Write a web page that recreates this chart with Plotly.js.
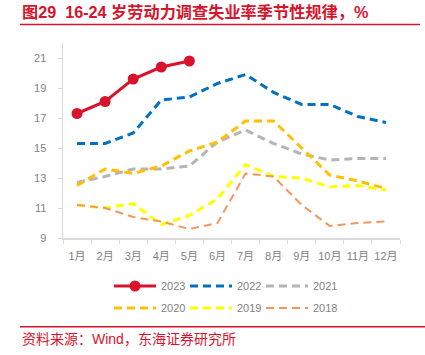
<!DOCTYPE html>
<html>
<head>
<meta charset="utf-8">
<script src="https://cdn.plot.ly/plotly-3.0.1.min.js"></script>
<style>
html,body{margin:0;padding:0;background:#fff;}
#chart{width:425px;height:355px;}
</style>
</head>
<body>
<div id="chart"></div>
<script>
const months = ["1月","2月","3月","4月","5月","6月","7月","8月","9月","10月","11月","12月"];
const y2023 = [17.3, 18.1, 19.6, 20.4, 20.8];
const y2022 = [15.3, 15.3, 16.0, 18.2, 18.4, 19.3, 19.9, 18.7, 17.9, 17.9, 17.1, 16.7];
const y2021 = [12.7, 13.1, 13.6, 13.6, 13.8, 15.4, 16.2, 15.3, 14.6, 14.2, 14.3, 14.3];
const y2020 = [12.5, 13.6, 13.3, 13.8, 14.8, 15.4, 16.8, 16.8, 15.0, 13.2, 12.8, 12.3];
const y2019 = [11.2, 11.0, 11.3, 9.9, 10.5, 11.6, 13.9, 13.1, 13.0, 12.4, 12.5, 12.2];
const y2018 = [11.2, 11.0, 10.4, 10.1, 9.6, 10.0, 13.3, 13.1, 11.2, 9.8, 10.0, 10.1];
const yTicks = [9, 11, 13, 15, 17, 19, 21];

const titleText = "图29  16-24 岁劳动力调查失业率季节性规律，%";
const sourceText = "资料来源：Wind，东海证券研究所";

const FONT = "Liberation Sans, Arial, Noto Sans CJK SC, sans-serif";
const RED = "#D7142C";
const dash = "8px,5px";

function dashed(name, y, color, width, legend) {
  return {
    type: "scatter", mode: "lines", name: name,
    x: months.slice(0, y.length), y: y,
    line: {color: color, width: width, dash: dash},
    legend: legend, hoverinfo: "skip"
  };
}

const traces = [
  {type: "scatter", mode: "lines+markers", name: "2023",
   x: months.slice(0, y2023.length), y: y2023,
   line: {color: RED, width: 3}, marker: {color: RED, size: 11},
   legend: "legend", hoverinfo: "skip"},
  dashed("2022", y2022, "#0070C0", 3, "legend2"),
  dashed("2021", y2021, "#B4B4B4", 3, "legend3"),
  dashed("2020", y2020, "#FFC000", 3, "legend4"),
  dashed("2019", y2019, "#FFFF00", 3, "legend5"),
  dashed("2018", y2018, "#F5975A", 2, "legend6")
];

function lg(px, py) {
  return {
    orientation: "h", xref: "container", yref: "container",
    xanchor: "left", yanchor: "middle",
    x: px/425, y: 1 - py/355, itemwidth: 42,
    font: {family: FONT, size: 11, color: "#7F7F7F"},
    bgcolor: "rgba(0,0,0,0)", borderwidth: 0
  };
}

const layout = {
  width: 425, height: 355,
  margin: {l: 63, r: 25, t: 43, b: 117},
  paper_bgcolor: "#fff", plot_bgcolor: "#fff",
  font: {family: FONT, size: 11, color: "#7F7F7F"},
  showlegend: true,
  xaxis: {
    type: "category", categoryorder: "array", categoryarray: months,
    range: [-0.5, 11.5], tickangle: 0,
    showline: true, linecolor: "#D9D9D9", linewidth: 1.5,
    ticks: "outside", tickson: "boundaries", ticklen: 4, tickcolor: "#D9D9D9", tickwidth: 1,
    showgrid: false, zeroline: false, fixedrange: true,
    ticklabelstandoff: 7,
    tickfont: {family: FONT, size: 11, color: "#7F7F7F"}
  },
  yaxis: {
    range: [9, 22], tickvals: yTicks, ticktext: yTicks.map(String),
    showline: true, linecolor: "#D9D9D9", linewidth: 1.5,
    ticks: "outside", ticklen: 4, tickcolor: "#D9D9D9", tickwidth: 1,
    showgrid: false, zeroline: false, fixedrange: true,
    ticklabelstandoff: 9,
    tickfont: {family: FONT, size: 11, color: "#7F7F7F"}
  },
  legend: lg(109, 286),
  legend2: lg(185, 286),
  legend3: lg(261, 286),
  legend4: lg(109, 308),
  legend5: lg(185, 308),
  legend6: lg(261, 308),
  annotations: [
    {xref: "paper", yref: "paper", x: (20 - 63)/337, y: (238 - 12)/195,
     xanchor: "left", yanchor: "middle", showarrow: false,
     text: "<b>" + titleText + "</b>",
     font: {family: FONT, size: 16.2, color: RED}},
    {xref: "paper", yref: "paper", x: (20 - 63)/337, y: (238 - 339)/195,
     xanchor: "left", yanchor: "middle", showarrow: false,
     text: sourceText,
     font: {family: FONT, size: 14, color: RED}}
  ],
  shapes: [
    {type: "line", xref: "paper", yref: "paper",
     x0: (20 - 63)/337, x1: (420 - 63)/337, y0: (238 - 24.5)/195, y1: (238 - 24.5)/195,
     line: {color: RED, width: 1.5}},
    {type: "line", xref: "paper", yref: "paper",
     x0: (20 - 63)/337, x1: (425 - 63)/337, y0: (238 - 326.7)/195, y1: (238 - 326.7)/195,
     line: {color: RED, width: 1.5}}
  ]
};

Plotly.newPlot("chart", traces, layout, {displayModeBar: false, staticPlot: true});
</script>
</body>
</html>
